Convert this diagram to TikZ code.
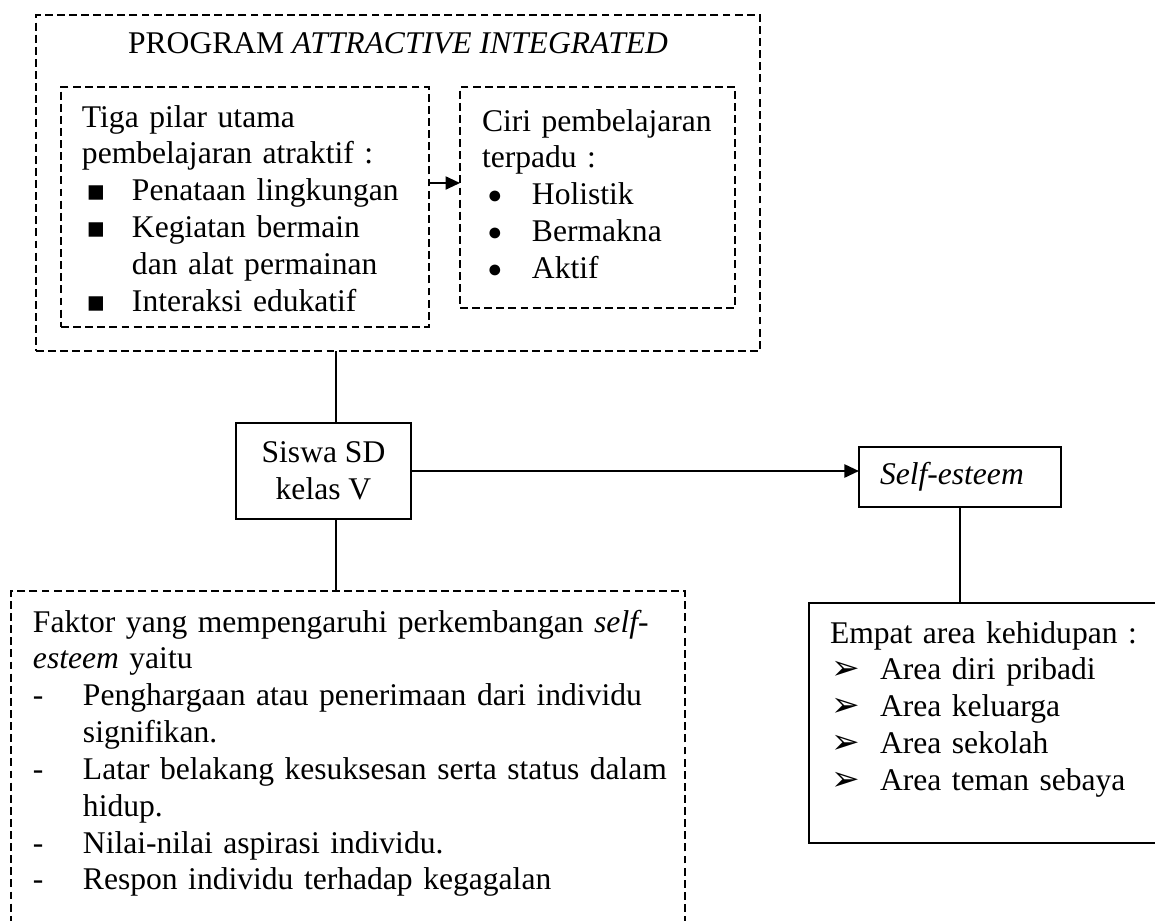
\documentclass[tikz,border=0pt]{standalone}
\usepackage{fontspec}
\setmainfont{Liberation Serif}
\newfontfamily\dejavu{DejaVu Sans}
\usetikzlibrary{arrows.meta}

\newcommand{\butir}[1]{\makebox[19pt][l]{#1}}
\newcommand{\lanjut}{\hspace*{19pt}}
\newcommand{\kotakkecil}{\hspace{1.6pt}{\dejavu\fontsize{11pt}{14pt}\selectfont ▪}}
\newcommand{\bulat}{\hspace{2pt}\raisebox{0.3pt}{\fontsize{9.5pt}{14pt}\selectfont ●}}
\newcommand{\ujung}{\hspace{0.6pt}{\dejavu\fontsize{13pt}{14pt}\selectfont ➢}}

\begin{document}
\begin{tikzpicture}[
    x=0.38pt, y=-0.38pt,
    line width=0.7pt,
    every node/.style={font=\fontsize{12pt}{14pt}\selectfont, inner sep=0pt, outer sep=0pt},
    kotak/.style={draw, rectangle},
    garis/.style={dash pattern=on 3pt off 1.6pt, line width=0.55pt},
    teks/.style={anchor=base west, align=left, text width=#1},
    >={Triangle[length=5.5pt,width=5pt]}
]

% Frame (boxes at the right and bottom run past it)
\path[use as bounding box, clip] (0,0) rectangle (1155,921);

% Program box
\node[kotak, garis, minimum width=275.1pt, minimum height=127.7pt] (prog) at (398,183) {};
\node[anchor=base] (judul) at (398,53) {PROGRAM \textit{ATTRACTIVE INTEGRATED}};

% Three pillars
\node[kotak, garis, minimum width=139.8pt, minimum height=91.2pt] (pilar) at (245,207) {};
\node[teks=135pt] (pilarteks) at (82,127) {Tiga pilar utama\\
    pembelajaran atraktif :\\
    \butir{\kotakkecil}Penataan lingkungan\\
    \butir{\kotakkecil}Kegiatan bermain\\
    \lanjut dan alat permainan\\
    \butir{\kotakkecil}Interaksi edukatif};

% Integrated learning
\node[kotak, garis, minimum width=104.5pt, minimum height=84pt] (ciri) at (597.5,197.5) {};
\node[teks=100pt] (ciriteks) at (482,131) {Ciri pembelajaran\\
    terpadu :\\
    \butir{\bulat}Holistik\\
    \butir{\bulat}Bermakna\\
    \butir{\bulat}Aktif};

\coordinate (panah) at (0,183);
\draw[->] (pilar.east |- panah) -- (ciri.west |- panah);

% Students
\node[kotak, minimum width=66.5pt, minimum height=36.5pt, align=center] (siswa) at (323.5,471) {Siswa SD\\ kelas V};

% Self-esteem and its areas
\node[kotak, minimum width=76.8pt, minimum height=22.8pt, text width=60.8pt, align=left] (selfe) at (960,477) {\textit{Self-esteem}};
\node[kotak, minimum width=137.2pt, minimum height=91.2pt] (empat) at (989.5,723) {};
\node[teks=130pt] (empatteks) at (830,643) {Empat area kehidupan :\\
    \butir{\ujung}Area diri pribadi\\
    \butir{\ujung}Area keluarga\\
    \butir{\ujung}Area sekolah\\
    \butir{\ujung}Area teman sebaya};

% Factors
\node[kotak, garis, minimum width=256.1pt, minimum height=132.6pt] (faktor) at (348,765.5) {};
\node[teks=250pt] (faktorteks) at (33,632) {Faktor yang mempengaruhi perkembangan \textit{self-}\\
    \textit{esteem} yaitu\\
    \butir{-}Penghargaan atau penerimaan dari individu\\
    \lanjut signifikan.\\
    \butir{-}Latar belakang kesuksesan serta status dalam\\
    \lanjut hidup.\\
    \butir{-}Nilai-nilai aspirasi individu.\\
    \butir{-}Respon individu terhadap kegagalan};

% Connectors
\coordinate (tengah) at (336,0);
\draw (prog.south -| tengah) -- (siswa.north -| tengah);
\draw (siswa.south -| tengah) -- (faktor.north -| tengah);
\draw[->] (siswa.east) -- (siswa.east -| selfe.west);
\draw (selfe.south) -- (selfe.south |- empat.north);

\end{tikzpicture}
\end{document}
